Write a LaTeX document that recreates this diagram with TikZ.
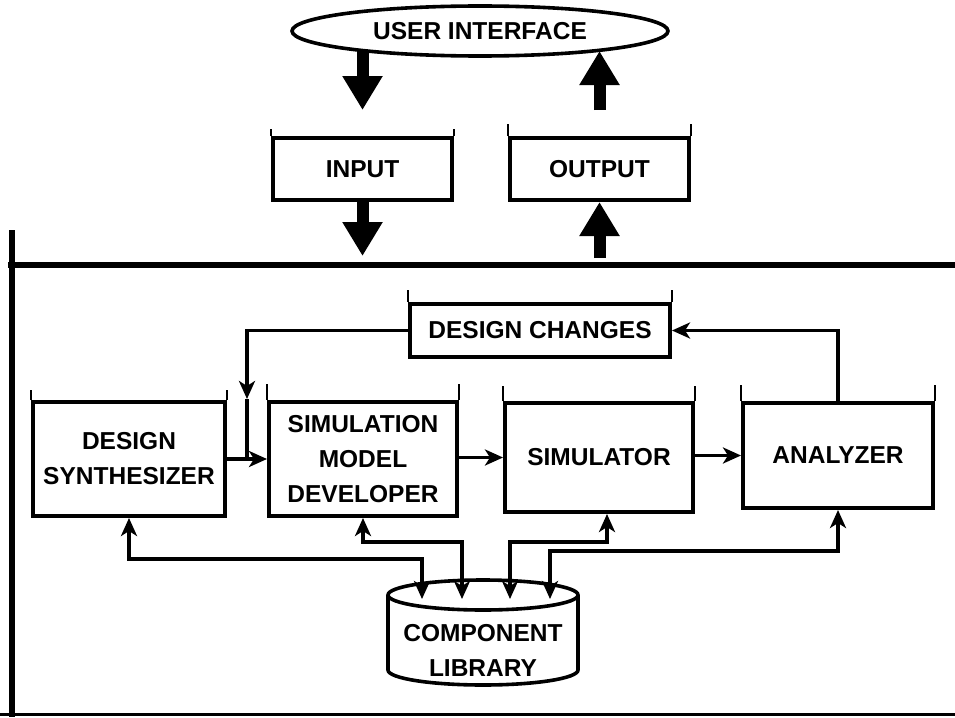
\documentclass[tikz,border=0pt]{standalone}
\usepackage{fontspec}
\setmainfont{Liberation Sans}
\usetikzlibrary{arrows.meta,shapes.geometric,backgrounds}
\begin{document}
\begin{tikzpicture}[x=1pt,y=-1pt,
  lbl/.style={font=\fontsize{24.5}{35}\selectfont\bfseries, align=center},
  box/.style={lbl, draw, line width=4pt, fill=white, inner sep=0pt},
  conn/.style={line width=3.6pt},
  head/.style={-{Stealth[length=18pt,width=16pt,inset=5pt]}},
  heads/.style={{Stealth[length=18pt,width=16pt,inset=5pt]}-{Stealth[length=18pt,width=16pt,inset=5pt]}},
  bigarrow/.style={line width=12pt, -{Triangle[length=34pt,width=38pt]}},
  tick/.style={line width=1.2pt}
]
\useasboundingbox (0,0) rectangle (955,717);

% user interface and the input / output blocks
\node[ellipse, draw, line width=3.6pt, fill=white, minimum width=376pt,
      minimum height=50pt, inner sep=0pt, lbl] (ui) at (480,31) {USER INTERFACE};
\node[box, minimum width=179pt, minimum height=62pt] (inp)  at (362.5,169) {INPUT};
\node[box, minimum width=179pt, minimum height=62pt] (outp) at (599.5,169) {OUTPUT};

% frame of the system
\draw[line width=6pt] (8,265) -- (955,265);
\draw[line width=6pt] (12,230) -- (12,717);
\draw[line width=3pt] (0,714) -- (955,714);

\coordinate (tipIn)  at (362.5,256);
\coordinate (baseOut) at (599.5,258);

\begin{pgfonlayer}{background}
  \draw[bigarrow] (inp.north |- ui.center) -- ([yshift=26pt]inp.north);
\end{pgfonlayer}
\draw[bigarrow] ([yshift=26pt]outp.north) -- (outp.north |- ui.-9);
\draw[bigarrow] (inp.south) -- (tipIn);
\draw[bigarrow] (baseOut) -- (outp.south);

% processing blocks
\node[box, minimum width=260pt, minimum height=53pt]  (dc)  at (540,330.5) {DESIGN CHANGES};
\node[box, minimum width=192pt, minimum height=114pt] (ds)  at (129,459)   {DESIGN\\SYNTHESIZER};
\node[box, minimum width=188pt, minimum height=114pt] (smd) at (363,459)   {SIMULATION\\MODEL\\DEVELOPER};
\node[box, minimum width=188pt, minimum height=109pt] (sim) at (599,457.5) {SIMULATOR};
\node[box, minimum width=190pt, minimum height=105pt] (ana) at (838,455.5) {ANALYZER};

\foreach \b/\h in {inp/7, outp/12, dc/12, ds/10, smd/16, sim/15, ana/16}{
  \draw[tick] (\b.north west) -- ++(0,-\h);
  \draw[tick] (\b.north east) -- ++(0,-\h);
}

% main flow and feedback loop
\coordinate (jn) at (247,459);
\coordinate (fb) at (247,399);
\draw[conn, head] (ds.east) -- (smd.west);
\draw[conn, head] (dc.west) -| (fb);
\draw[conn] (fb) -- (jn);
\draw[conn, head] (smd.east |- sim.west) -- (sim.west);
\draw[conn, head] (sim.east |- ana.west) -- (ana.west);
\draw[conn, head] (ana.north) |- (dc.east);

% component library
\draw[line width=3.6pt, fill=white] (388,595) -- (388,670)
  arc[start angle=180, end angle=360, x radius=95pt, y radius=15pt] -- (578,595);
\draw[line width=3.6pt] (483,595) ellipse[x radius=95pt, y radius=15pt];
\node[lbl] (lib) at (483,650) {COMPONENT\\LIBRARY};

\coordinate (l1) at (422,599);
\coordinate (l2) at (462,599);
\coordinate (l3) at (510,599);
\coordinate (l4) at (550,599);
\draw[conn, heads] (ds.south) -- ++(0,41) -| (l1);
\draw[conn, heads] (smd.south) -- ++(0,24) -| (l2);
\draw[conn, heads] ([xshift=8pt]sim.south) -- ++(0,28) -| (l3);
\draw[conn, heads] (ana.south) -- ++(0,41) -| (l4);
\end{tikzpicture}
\end{document}
